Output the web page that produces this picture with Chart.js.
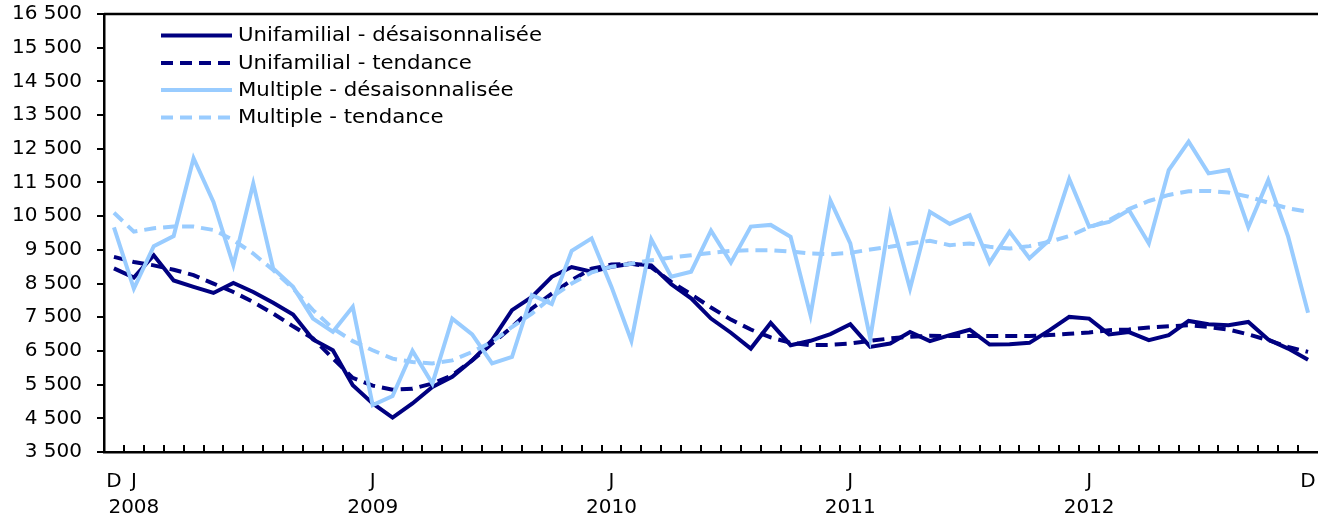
<!DOCTYPE html>
<html lang="fr">
<head>
    <meta charset="UTF-8">
    <title>Mises en chantier - unifamilial et multiple</title>
    <script src="https://cdn.jsdelivr.net/npm/chart.js"></script>
    <style>
        body {
            margin: 0;
            background-color: #ffffff;
        }
        .chart-container {
            position: relative;
            width: 1318px;
            height: 520px;
        }
    </style>
</head>
<body>
    <div class="chart-container">
        <canvas id="startsChart"></canvas>
    </div>

    <script>
        // Months from December 2007 to December 2012
        const months = [
            '2007-12',
            '2008-01', '2008-02', '2008-03', '2008-04', '2008-05', '2008-06', '2008-07', '2008-08', '2008-09', '2008-10', '2008-11', '2008-12',
            '2009-01', '2009-02', '2009-03', '2009-04', '2009-05', '2009-06', '2009-07', '2009-08', '2009-09', '2009-10', '2009-11', '2009-12',
            '2010-01', '2010-02', '2010-03', '2010-04', '2010-05', '2010-06', '2010-07', '2010-08', '2010-09', '2010-10', '2010-11', '2010-12',
            '2011-01', '2011-02', '2011-03', '2011-04', '2011-05', '2011-06', '2011-07', '2011-08', '2011-09', '2011-10', '2011-11', '2011-12',
            '2012-01', '2012-02', '2012-03', '2012-04', '2012-05', '2012-06', '2012-07', '2012-08', '2012-09', '2012-10', '2012-11', '2012-12'
        ];

        // Only these months get a label on the x axis
        const xTickLabels = {
            '2007-12': ['D', ''],
            '2008-01': ['J', '2008'],
            '2009-01': ['J', '2009'],
            '2010-01': ['J', '2010'],
            '2011-01': ['J', '2011'],
            '2012-01': ['J', '2012'],
            '2012-12': ['D', '']
        };

        const unifamilialSA = [
            8950,
            8680, 9340, 8590, 8400, 8220, 8520, 8250, 7930, 7580, 6840, 6520, 5480,
            4940, 4520, 4940, 5430, 5730, 6220, 6820, 7710, 8100, 8700, 8990, 8850,
            9000, 9090, 9040, 8480, 8060, 7460, 7040, 6570, 7330, 6670, 6800, 7000,
            7290, 6620, 6720, 7060, 6790, 6970, 7130, 6690, 6700, 6740, 7110, 7510,
            7460, 6990, 7060, 6820, 6970, 7390, 7290, 7260, 7360, 6840, 6570, 6240
        ];

        const unifamilialTrend = [
            9290,
            9140, 9040, 8910, 8750, 8500, 8250, 7950, 7610, 7230, 6870, 6280, 5700,
            5470, 5350, 5380, 5530, 5780, 6220, 6720, 7210, 7760, 8200, 8600, 8940,
            9065, 9090, 8980, 8550, 8180, 7790, 7430, 7135, 6900, 6740, 6670, 6680,
            6720, 6800, 6870, 6920, 6950, 6940, 6940, 6940, 6940, 6940, 6970, 7010,
            7050, 7115, 7135, 7195, 7230, 7260, 7210, 7135, 6990, 6820, 6620, 6470
        ];

        const multipleSA = [
            10170,
            8350, 9610, 9910, 12220, 10920, 9050, 11470, 8950, 8400, 7460, 7070, 7810,
            4890, 5160, 6500, 5530, 7460, 6990, 6130, 6320, 8160, 7890, 9470, 9840,
            8400, 6800, 9810, 8700, 8850, 10070, 9120, 10190, 10240, 9890, 7560, 10960,
            9690, 6870, 10530, 8350, 10630, 10270, 10530, 9120, 10040, 9250, 9790, 11600,
            10190, 10330, 10680, 9690, 11870, 12710, 11770, 11870, 10170, 11570, 9890, 7630
        ];

        const multipleTrend = [
            10600,
            10040, 10140, 10190, 10190, 10090, 9790, 9390, 8900, 8350, 7710, 7170, 6790,
            6520, 6270, 6170, 6130, 6220, 6470, 6770, 7210, 7610, 8100, 8500, 8830,
            9000, 9090, 9190, 9270, 9340, 9410, 9470, 9490, 9490, 9450, 9390, 9370,
            9410, 9510, 9590, 9690, 9770, 9640, 9690, 9590, 9540, 9610, 9740, 9910,
            10170, 10380, 10710, 10950, 11130, 11240, 11250, 11200, 11080, 10900, 10730, 10630
        ];

        const seriesNames = [
            'Unifamilial - désaisonnalisée',
            'Unifamilial - tendance',
            'Multiple - désaisonnalisée',
            'Multiple - tendance'
        ];

        const darkBlue = '#000080';
        const lightBlue = '#99ccff';
        const fontFamily = '"DejaVu Sans", Verdana, sans-serif';

        function spaced(v) {
            return String(v).replace(/\B(?=(\d{3})+(?!\d))/g, ' ');
        }

        // legend in the upper left of the plot, one row per series
        const legendPlugin = {
            id: 'insideLegend',
            afterDraw(chart) {
                const ctx = chart.ctx;
                const rows = [35.5, 63, 90, 117.5];
                ctx.save();
                ctx.font = '19px ' + fontFamily;
                ctx.textBaseline = 'middle';
                chart.data.datasets.forEach((ds, i) => {
                    ctx.beginPath();
                    ctx.strokeStyle = ds.borderColor;
                    ctx.lineWidth = 4;
                    ctx.setLineDash(ds.borderDash || []);
                    ctx.moveTo(161, rows[i]);
                    ctx.lineTo(232, rows[i]);
                    ctx.stroke();
                    ctx.setLineDash([]);
                    // the original legend text is set a little wider than DejaVu
                    ctx.save();
                    ctx.translate(238, rows[i] + 1);
                    ctx.scale(1.12, 1);
                    ctx.fillStyle = '#000';
                    ctx.fillText(ds.label, 0, 0);
                    ctx.restore();
                });
                ctx.restore();
            }
        };

        // top frame line and inward month ticks on the x axis
        const framePlugin = {
            id: 'frame',
            afterDraw(chart) {
                const { ctx, chartArea: a, scales: { x } } = chart;
                ctx.save();
                ctx.strokeStyle = '#000';
                ctx.lineWidth = 2.5;
                ctx.beginPath();
                ctx.moveTo(a.left, a.top);
                ctx.lineTo(a.right, a.top);
                ctx.stroke();
                ctx.lineWidth = 2;
                ctx.beginPath();
                for (let i = 1; i < months.length; i++) {
                    const px = Math.round((x.getPixelForValue(i - 1) + x.getPixelForValue(i)) / 2);
                    ctx.moveTo(px, a.bottom);
                    ctx.lineTo(px, a.bottom - 7);
                }
                ctx.stroke();
                ctx.restore();
            }
        };

        function lineDataset(label, data, color, dashed, order) {
            return {
                label: label,
                data: data,
                borderColor: color,
                backgroundColor: color,
                borderWidth: 4,
                borderDash: dashed ? [12, 7] : [],
                pointRadius: 0,
                tension: 0,
                fill: false,
                order: order
            };
        }

        new Chart(document.getElementById('startsChart'), {
            type: 'line',
            data: {
                labels: months,
                datasets: [
                    lineDataset(seriesNames[0], unifamilialSA, darkBlue, false, 3),
                    lineDataset(seriesNames[1], unifamilialTrend, darkBlue, true, 2),
                    lineDataset(seriesNames[2], multipleSA, lightBlue, false, 1),
                    lineDataset(seriesNames[3], multipleTrend, lightBlue, true, 0)
                ]
            },
            options: {
                responsive: true,
                maintainAspectRatio: false,
                animation: false,
                layout: {
                    padding: 0
                },
                plugins: {
                    legend: { display: false },
                    tooltip: { enabled: false }
                },
                scales: {
                    x: {
                        offset: true,
                        grid: { display: false, drawTicks: false },
                        border: { display: true, color: '#000', width: 2.5 },
                        ticks: {
                            autoSkip: false,
                            maxRotation: 0,
                            padding: 17,
                            color: '#000',
                            font: { family: fontFamily, size: 20, lineHeight: 1.28 },
                            callback: function (value) {
                                return xTickLabels[months[value]] || '';
                            }
                        },
                        afterFit: function (scale) {
                            // plot runs right to the edge of the picture
                            scale.height = 68;
                            scale.paddingLeft = 0;
                            scale.paddingRight = 0;
                        }
                    },
                    y: {
                        min: 3500,
                        max: 16500,
                        grid: {
                            drawOnChartArea: false,
                            drawTicks: true,
                            tickLength: 7,
                            color: '#000',
                            lineWidth: 2
                        },
                        border: { display: true, color: '#000', width: 2.5 },
                        ticks: {
                            stepSize: 1000,
                            padding: 15,
                            color: '#000',
                            font: { family: fontFamily, size: 20 },
                            callback: function (value) {
                                return spaced(value);
                            }
                        },
                        afterFit: function (scale) {
                            scale.width = 104;
                            scale.paddingTop = 14;
                            scale.paddingBottom = 14;
                        }
                    }
                }
            },
            plugins: [framePlugin, legendPlugin]
        });
    </script>
</body>
</html>
